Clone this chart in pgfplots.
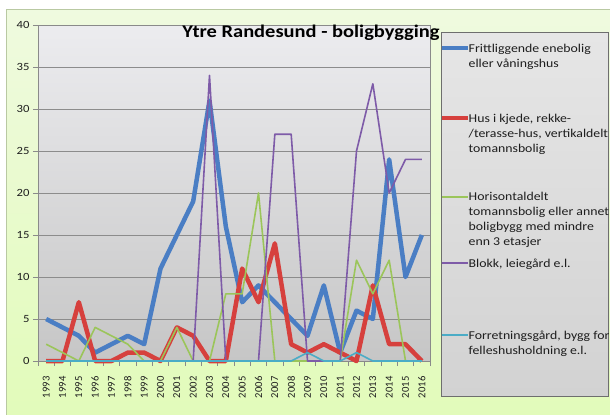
\documentclass[border=0pt]{standalone}
\usepackage{pgfplots}
\pgfplotsset{compat=1.18}
\usepackage{fontspec}
\setmainfont{Carlito}
\newfontfamily\cst{Carlito}[FakeStretch=1.15]
\definecolor{cblue}{HTML}{4A7EC4}
\definecolor{cred}{HTML}{D6403D}
\definecolor{cgreen}{HTML}{9BC55A}
\definecolor{cpurple}{HTML}{7E5BA8}
\definecolor{ccyan}{HTML}{4BACC6}
\definecolor{bgtop}{HTML}{EFFADF}
\definecolor{bgbot}{HTML}{E2FBBA}
\definecolor{bgborder}{HTML}{B9C9A2}
\definecolor{pltop}{HTML}{ECECEF}
\definecolor{plbot}{HTML}{C6C6C6}
\definecolor{gridc}{HTML}{8C8C8C}
\definecolor{axisc}{HTML}{8A8A8A}
\definecolor{lgtop}{HTML}{E6E6E6}
\definecolor{lgbot}{HTML}{D2D2D2}
\definecolor{lgborder}{HTML}{6E6E6E}
\definecolor{tickc}{HTML}{1E1E1E}
\newcommand\legline[2]{\node[anchor=base west,inner sep=0pt,font=\cst\fontsize{12bp}{15bp}\selectfont,text=tickc] at (468.5,{410-#1}) {#2};}
\begin{document}
\begin{tikzpicture}[x=1bp,y=1bp]
\useasboundingbox (0,0) rectangle (610,414);
\fill[white] (0,0) rectangle (610,414);
\shade[top color=bgtop, bottom color=bgbot, draw=bgborder, line width=1bp] (6.5,-2) rectangle (613,404.5);
\begin{axis}[
  at={(38bp,53bp)}, anchor=south west,
  scale only axis, width=392bp, height=336bp,
  xmin=-0.5, xmax=23.5, ymin=0, ymax=40,
  ytick={0,5,...,40},
  xtick={-0.5,0.5,...,23.5},
  x tick label as interval,
  xticklabels={1993,1994,1995,1996,1997,1998,1999,2000,2001,2002,2003,2004,2005,2006,2007,2008,2009,2010,2011,2012,2013,2014,2015,2016},
  ymajorgrids, grid style={gridc, line width=0.8bp},
  tick align=outside, tick pos=left,
  major tick length=5bp,
  axis line style={axisc, line width=0.8bp},
  tick style={axisc, line width=0.8bp},
  axis background/.style={shade, top color=pltop, bottom color=plbot},
  /pgf/number format/assume math mode=true,
  yticklabel style={font=\cst\fontsize{11bp}{13bp}\selectfont, text=tickc},
  xticklabel shift=7bp,
  xticklabel style={rotate=90, anchor=east, font=\fontsize{10.6bp}{12bp}\selectfont, text=tickc},
  clip=false,
]
\addplot[cblue, line width=4.5bp, line join=round] coordinates {
(0,5)(1,4)(2,3)(3,1)(4,2)(5,3)(6,2)(7,11)(8,15)(9,19)(10,31)(11,16)(12,7)(13,9)(14,7)(15,5)(16,3)(17,9)(18,1)(19,6)(20,5)(21,24)(22,10)(23,15)};
\addplot[cred, line width=4.5bp, line join=round] coordinates {
(0,0)(1,0)(2,7)(3,0)(4,0)(5,1)(6,1)(7,0)(8,4)(9,3)(10,0)(11,0)(12,11)(13,7)(14,14)(15,2)(16,1)(17,2)(18,1)(19,0)(20,9)(21,2)(22,2)(23,0)};
\addplot[cgreen, line width=1.6bp, line join=round] coordinates {
(0,2)(1,1)(2,0)(3,4)(4,3)(5,2)(6,0)(7,0)(8,4)(9,0)(10,0)(11,8)(12,8)(13,20)(14,0)(15,0)(16,0)(17,0)(18,0)(19,12)(20,8)(21,12)(22,0)(23,0)};
\addplot[cpurple, line width=1.6bp, line join=round] coordinates {
(0,0)(1,0)(2,0)(3,0)(4,0)(5,0)(6,0)(7,0)(8,0)(9,0)(10,34)(11,0)(12,0)(13,0)(14,27)(15,27)(16,0)(17,0)(18,0)(19,25)(20,33)(21,20)(22,24)(23,24)};
\addplot[ccyan, line width=1.6bp, line join=round] coordinates {
(0,0)(1,0)(2,0)(3,0)(4,0)(5,0)(6,0)(7,0)(8,0)(9,0)(10,0)(11,0)(12,0)(13,0)(14,0)(15,0)(16,1)(17,0)(18,0)(19,1)(20,0)(21,0)(22,0)(23,0)};
\end{axis}
\node[anchor=base, inner sep=0pt, font=\cst\bfseries\fontsize{17.8bp}{20bp}\selectfont] at (311,376.3) {Ytre Randesund - boligbygging};
% legend
\shade[top color=lgtop, bottom color=lgbot, draw=lgborder, line width=1bp] (441,17.3) rectangle (608,381.7);
\draw[cblue, line width=4bp] (442,{414-48.3}) -- (468,{414-48.3});
\draw[cred, line width=4bp] (442,{414-118.3}) -- (468,{414-118.3});
\draw[cgreen, line width=1.6bp] (442,{414-196.7}) -- (468,{414-196.7});
\draw[cpurple, line width=1.6bp] (442,{414-263}) -- (468,{414-263});
\draw[ccyan, line width=1.6bp] (442,{414-335}) -- (468,{414-335});
\legline{48.3}{Frittliggende enebolig}
\legline{63.3}{eller våningshus}
\legline{118.3}{Hus i kjede, rekke-}
\legline{133.3}{/terasse-hus, vertikaldelt}
\legline{148.3}{tomannsbolig}
\legline{196.7}{Horisontaldelt}
\legline{211.7}{tomannsbolig eller annet}
\legline{226.7}{boligbygg med mindre}
\legline{241.7}{enn 3 etasjer}
\legline{263}{Blokk, leiegård e.l.}
\legline{335}{Forretningsgård, bygg for}
\legline{350}{felleshusholdning e.l.}
\end{tikzpicture}
\end{document}
